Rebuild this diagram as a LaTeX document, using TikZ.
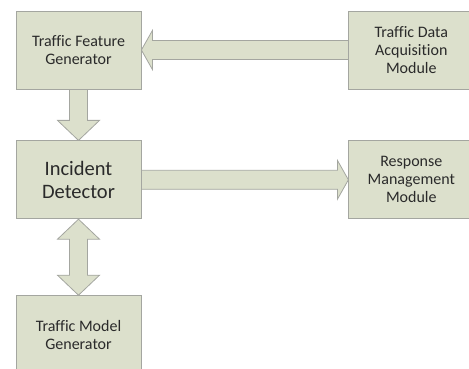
\documentclass[tikz,border=0pt]{standalone}
\usepackage{fontspec}
\setmainfont[Ligatures=NoCommon]{Carlito}
\usepackage{xcolor}
\definecolor{boxfill}{HTML}{DCE0CC}
\definecolor{boxline}{HTML}{A4A6A0}
\definecolor{inkgray}{HTML}{2A2A2A}
\usepackage{tikz}
\usetikzlibrary{positioning,calc,backgrounds}

\begin{document}
\begin{tikzpicture}[
    x=1pt, y=1pt,
    node distance=51pt and 207pt,
    every node/.style={align=center, text=inkgray},
    mod_box/.style={draw=boxline, fill=boxfill, line width=0.8pt, inner sep=0pt,
      minimum width=125pt, minimum height=78pt,
      font=\fontsize{16}{18}\selectfont},
    big_box/.style={mod_box, font=\fontsize{20.5}{23.5}\selectfont},
    fat_flow/.style={draw=boxline, fill=boxfill, line width=0.8pt, line join=miter}
]
  \useasboundingbox (0,0) rectangle (469,-369);
  \clip (0,0) rectangle (469,-369);

  % Modules
  \node[mod_box] (feature) at (78.5,-50) {Traffic Feature\\Generator};
  \node[big_box, below=of feature] (detector) {Incident\\Detector};
  \node[mod_box, below=76pt of detector] (model) {Traffic Model\\Generator};
  \node[mod_box, right=of feature] (acquire) {Traffic Data\\Acquisition\\Module};
  \node[mod_box, right=of detector] (response) {Response\\Management\\Module};

  % Block arrows
  \begin{scope}[on background layer]
    \draw[fat_flow] ([yshift=9.5]acquire.west) -- ([shift={(11,9.5)}]feature.east)
      -- ([shift={(11,19.5)}]feature.east) -- (feature.east)
      -- ([shift={(11,-19.5)}]feature.east) -- ([shift={(11,-9.5)}]feature.east)
      -- ([yshift=-9.5]acquire.west) -- cycle;
    \draw[fat_flow] ([xshift=-9]feature.south) -- ([shift={(-9,20)}]detector.north)
      -- ([shift={(-21,20)}]detector.north) -- (detector.north)
      -- ([shift={(21,20)}]detector.north) -- ([shift={(9,20)}]detector.north)
      -- ([xshift=9]feature.south) -- cycle;
    \draw[fat_flow] ([yshift=9.5]detector.east) -- ([shift={(-11,9.5)}]response.west)
      -- ([shift={(-11,19.5)}]response.west) -- (response.west)
      -- ([shift={(-11,-19.5)}]response.west) -- ([shift={(-11,-9.5)}]response.west)
      -- ([yshift=-9.5]detector.east) -- cycle;
    \draw[fat_flow] (detector.south) -- ([shift={(21,-20)}]detector.south)
      -- ([shift={(9,-20)}]detector.south) -- ([shift={(9,20)}]model.north)
      -- ([shift={(21,20)}]model.north) -- (model.north)
      -- ([shift={(-21,20)}]model.north) -- ([shift={(-9,20)}]model.north)
      -- ([shift={(-9,-20)}]detector.south) -- ([shift={(-21,-20)}]detector.south)
      -- cycle;
  \end{scope}

\end{tikzpicture}
\end{document}
